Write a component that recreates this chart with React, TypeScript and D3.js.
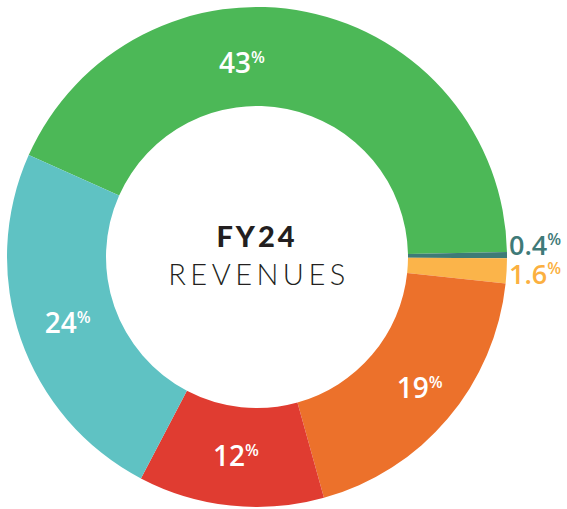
import React from 'react';
import * as d3 from 'd3';

const categories = ['Segment A', 'Segment B', 'Segment C', 'Segment D', 'Segment E', 'Segment F'];
const values = [43, 0.4, 1.6, 19, 12, 24];
const valueLabels = ['43', '0.4', '1.6', '19', '12', '24'];
const sliceColors = ['#4cb857', '#3e7b77', '#fbb44a', '#ec712b', '#e03c31', '#5fc2c3'];
const labelColors = ['#ffffff', '#3f7a78', '#fbb040', '#ffffff', '#ffffff', '#ffffff'];
const labelInside = [true, false, false, true, true, true];
const centerTitle = 'FY24';
const centerSubtitle = 'REVENUES';

const W = 567;
const H = 509;

export default function App() {
  const cx = 257;
  const cy = 257;
  const outerR = 250;
  const innerR = 151;
  const total = d3.sum(values);
  const deg = Math.PI / 180;
  const start = (90 - (360 * (values[0] + values[1])) / total + 0.3) * deg;

  const pie = d3
    .pie<number>()
    .sort(null)
    .value((d) => d)
    .startAngle(start)
    .endAngle(start + 2 * Math.PI);
  const arcs = pie(values);
  const arc = d3.arc<d3.PieArcDatum<number>>().innerRadius(innerR).outerRadius(outerR);

  const midR = (innerR + outerR) / 2;
  const angleNudge: Record<number, number> = { 0: -15.9 * deg, 3: -1.5 * deg };
  const radiusNudge: Record<number, number> = { 0: -6, 3: 8 };
  const outsideDy: Record<number, number> = { 1: -10, 2: 3 };

  return (
    <svg
      width={W}
      height={H}
      style={{ position: 'absolute', left: 0, top: 0, background: '#ffffff' }}
    >
      <g transform={`translate(${cx},${cy})`}>
        {arcs.map((a, i) => (
          <path key={categories[i]} d={arc(a) || ''} fill={sliceColors[i]} />
        ))}
        {arcs.map((a, i) => {
          const mid = (a.startAngle + a.endAngle) / 2;
          if (labelInside[i]) {
            const ang = mid + (angleNudge[i] || 0);
            const r = midR + (radiusNudge[i] || 0);
            const x = r * Math.sin(ang);
            const y = -r * Math.cos(ang);
            return (
              <text
                key={'l' + i}
                x={x}
                y={y + 10}
                textAnchor="middle"
                fill={labelColors[i]}
                fontFamily="'Open Sans', sans-serif"
                fontWeight={600}
                fontSize={28}
              >
                {valueLabels[i]}
                <tspan fontSize={16} dy={-10}>%</tspan>
              </text>
            );
          }
          const yy = -(outerR + 3) * Math.cos(mid) + (outsideDy[i] || 0);
          return (
            <text
              key={'l' + i}
              x={outerR + 2}
              y={yy + 10}
              textAnchor="start"
              fill={labelColors[i]}
              fontFamily="'Open Sans', sans-serif"
              fontWeight={600}
              fontSize={27}
            >
              {valueLabels[i]}
              <tspan fontSize={16} dy={-10}>%</tspan>
            </text>
          );
        })}
        <text
          x={0}
          y={-10}
          textAnchor="middle"
          fill="#231f20"
          fontFamily="Lato, sans-serif"
          fontWeight={900}
          fontSize={29}
          letterSpacing={3}
        >
          {centerTitle}
        </text>
        <text
          x={2}
          y={28}
          textAnchor="middle"
          fill="#231f20"
          fontFamily="Lato, sans-serif"
          fontWeight={300}
          fontSize={29}
          letterSpacing={4.5}
        >
          {centerSubtitle}
        </text>
      </g>
    </svg>
  );
}
